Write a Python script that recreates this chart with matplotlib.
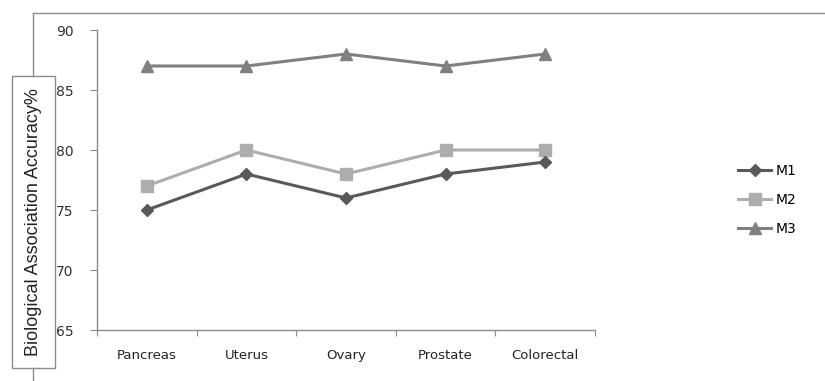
import matplotlib
matplotlib.use("Agg")
import matplotlib.pyplot as plt
from matplotlib.lines import Line2D
from matplotlib.patches import Rectangle
import numpy as np

categories = ["Pancreas", "Uterus", "Ovary", "Prostate", "Colorectal"]
m1 = [75, 78, 76, 78, 79]
m2 = [77, 80, 78, 80, 80]
m3 = [87, 87, 88, 87, 88]
y_ticks = [65, 70, 75, 80, 85, 90]

W, H = 825, 381
fig = plt.figure(figsize=(W / 100, H / 100), dpi=100)
fig.patch.set_facecolor("white")

# plot area in pixel coordinates
left, right, top, bottom = 97, 595, 30, 330
ax = fig.add_axes([left / W, 1 - bottom / H, (right - left) / W, (bottom - top) / H])

x = np.arange(len(categories))
ax.plot(x, m1, color="#595959", lw=2.2, marker="D", ms=6.5, label="M1", zorder=3)
ax.plot(x, m2, color="#adadad", lw=2.2, marker="s", ms=9, label="M2", zorder=2)
ax.plot(x, m3, color="#808080", lw=2.2, marker="^", ms=9, label="M3", zorder=2)

ax.set_xlim(-0.5, len(categories) - 0.5)
ax.set_ylim(65, 90)
ax.set_yticks(y_ticks)
ax.set_yticklabels([str(v) for v in y_ticks], fontsize=10, color="#333333")
ax.set_xticks(np.arange(len(categories) + 1) - 0.5)
ax.set_xticklabels([])
ax.set_xticks(x, minor=True)
ax.set_xticklabels(categories, minor=True, fontsize=9.5, color="#222222")
ax.tick_params(axis="x", which="minor", length=0, pad=14)
ax.tick_params(axis="x", which="major", length=4, color="#8c8c8c", direction="out")
ax.tick_params(axis="y", length=5, color="#8c8c8c", direction="out", pad=12)
for s in ["top", "right"]:
    ax.spines[s].set_visible(False)
for s in ["left", "bottom"]:
    ax.spines[s].set_color("#8c8c8c")
    ax.spines[s].set_linewidth(1.0)

leg = ax.legend(loc="center left", bbox_to_anchor=((738 - left) / (right - left), (bottom - 200) / (bottom - top)),
                frameon=False, fontsize=10, handlelength=2.4, labelspacing=1.1,
                handletextpad=0.3, borderaxespad=0, borderpad=0)

# outer chart frame
frame_col = "#8c8c8c"
fig.add_artist(Line2D([33 / W, 1], [1 - 13 / H, 1 - 13 / H], color=frame_col, lw=1.0))
fig.add_artist(Line2D([33 / W, 33 / W], [1 - 13 / H, 1 - 76 / H], color=frame_col, lw=1.0))
fig.add_artist(Line2D([33 / W, 33 / W], [1 - 368 / H, 0], color=frame_col, lw=1.0))

# y-axis title inside a box
fig.add_artist(Rectangle((12 / W, 1 - 368 / H), 43 / W, 292 / H, facecolor="white",
                         edgecolor="#8c8c8c", lw=1.0))
fig.text(34 / W, 1 - 222 / H, "Biological Association Accuracy%", rotation=90,
         ha="center", va="center", fontsize=13, family="Liberation Sans", color="#222222")

fig.savefig("out.png", dpi=100)
